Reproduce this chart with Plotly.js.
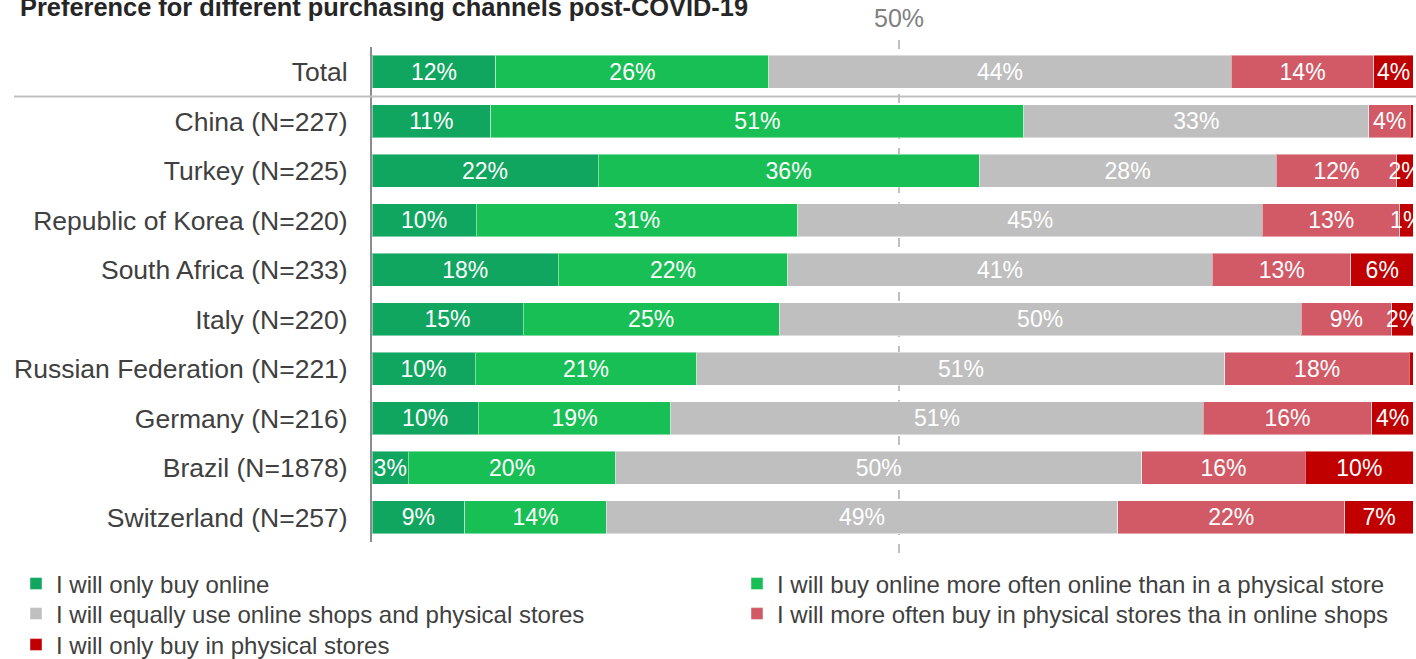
<!DOCTYPE html>
<html>
<head>
<meta charset="utf-8">
<script src="https://cdn.plot.ly/plotly-3.0.1.min.js"></script>
<style>
  html, body { margin: 0; padding: 0; background: #fff; }
  #plot { width: 1416px; height: 659px; }
</style>
</head>
<body>
<div id="plot"></div>
<script>
// Preference for purchasing channels post-COVID-19 — 100% stacked horizontal bars
const categories = ['Total', 'China (N=227)', 'Turkey (N=225)', 'Republic of Korea (N=220)',
  'South Africa (N=233)', 'Italy (N=220)', 'Russian Federation (N=221)', 'Germany (N=216)',
  'Brazil (N=1878)', 'Switzerland (N=257)'];

// shares in %
const onlyOnline   = [11.9, 11.4, 21.7, 10.0, 17.9, 14.5,  9.9, 10.2,  3.5,  8.9];
const moreOnline   = [26.2, 51.2, 36.6, 30.9, 22.0, 24.6, 21.3, 18.5, 19.9, 13.6];
const equally      = [44.4, 33.1, 28.5, 44.6, 40.8, 50.1, 50.7, 51.1, 50.5, 49.1];
const morePhysical = [13.7,  4.0, 11.6, 13.2, 13.3,  8.7, 17.7, 16.2, 15.7, 21.8];
const onlyPhysical = [ 3.8,  0.3,  1.6,  1.3,  6.0,  2.1,  0.4,  4.0, 10.4,  6.6];

// printed labels (the rounded figures shown on the chart)
const lblOnlyOnline   = ['12%', '11%', '22%', '10%', '18%', '15%', '10%', '10%', '3%', '9%'];
const lblMoreOnline   = ['26%', '51%', '36%', '31%', '22%', '25%', '21%', '19%', '20%', '14%'];
const lblEqually      = ['44%', '33%', '28%', '45%', '41%', '50%', '51%', '51%', '50%', '49%'];
const lblMorePhysical = ['14%', '4%', '12%', '13%', '13%', '9%', '18%', '16%', '16%', '22%'];
const lblOnlyPhysical = ['4%', '', '2%', '1%', '6%', '2%', '', '4%', '10%', '7%'];

const seriesNames = [
  'I will only buy online',
  'I will buy online more often online than in a physical store',
  'I will equally use online shops and physical stores',
  'I will more often buy in physical stores tha in online shops',
  'I will only buy in physical stores',
];

const MID = 50.6;   // dashed "50%" guide, as placed in the source

const FONT = 'Liberation Sans, Arial, sans-serif';
const COLORS = ['#11a65f', '#17bf55', '#bfbfbf', '#d15a66', '#c00000'];

// plot box in pixels (used only to turn pixel spots into paper fractions)
const W = 1416, H = 659, L = 372, R = 2, T = 47, B = 117;
const PW = W - L - R, PH = H - T - B;
const px = v => (v - L) / PW;
const py = v => (H - B - v) / PH;

function bar(x, text, i) {
  return {
    type: 'bar', orientation: 'h', y: categories, x, text, name: seriesNames[i],
    legend: i === 0 ? 'legend' : 'legend' + (i + 1),
    textposition: 'inside', insidetextanchor: 'middle', constraintext: 'none', textangle: 0,
    textfont: { family: FONT, size: 23, color: '#ffffff' },
    marker: { color: COLORS[i], line: { color: 'rgba(255,255,255,0.45)', width: 1 } },
    hoverinfo: 'skip', cliponaxis: false,
  };
}

const traces = [
  bar(onlyOnline, lblOnlyOnline, 0),
  bar(moreOnline, lblMoreOnline, 1),
  bar(equally, lblEqually, 2),
  bar(morePhysical, lblMorePhysical, 3),
  bar(onlyPhysical, lblOnlyPhysical, 4),
];

// one legend box per entry so the two-column grid sits where the source has it
const legendSpots = [[16, 584], [737, 584], [16, 614], [737, 614], [16, 645]];
function legendAt(k) {
  const [lx, ly] = legendSpots[k];
  return {
    x: px(lx), y: py(ly), xanchor: 'left', yanchor: 'middle', orientation: 'v',
    bgcolor: 'rgba(0,0,0,0)', borderwidth: 0, traceorder: 'normal',
    font: { family: FONT, size: 24, color: '#404040' },
    itemclick: false, itemdoubleclick: false,
  };
}

const layout = {
  width: W, height: H,
  margin: { l: L, r: R, t: T, b: B, autoexpand: false },
  paper_bgcolor: '#fff', plot_bgcolor: '#fff',
  font: { family: FONT, color: '#404040' },
  barmode: 'stack', bargap: 0.34,
  title: {
    text: '<b>Preference for different purchasing channels post-COVID-19</b>',
    font: { family: FONT, size: 25.4, color: '#262626' },
    x: 20 / W, xanchor: 'left', xref: 'container',
    y: 1 - 7 / H, yanchor: 'middle', yref: 'container',
  },
  xaxis: { range: [0, 100.05], showgrid: false, zeroline: false, showticklabels: false, fixedrange: true },
  yaxis: {
    autorange: 'reversed', showgrid: false, zeroline: false,
    showline: true, linecolor: '#8c8c8c', linewidth: 2,
    ticks: '', ticklabelstandoff: 17,
    tickfont: { family: FONT, size: 26.5, color: '#404040' }, fixedrange: true,
  },
  showlegend: true,
  legend: legendAt(0),
  legend2: legendAt(1),
  legend3: legendAt(2),
  legend4: legendAt(3),
  legend5: legendAt(4),
  shapes: [
    // dashed midpoint guide behind the bars
    { type: 'line', layer: 'below', xref: 'x', yref: 'paper', x0: MID, x1: MID, y0: py(553), y1: py(35),
      line: { color: '#bfbfbf', width: 2, dash: 'dash' } },
    // separator between Total and the countries
    { type: 'line', layer: 'above', xref: 'paper', yref: 'y', x0: px(14), x1: px(W), y0: 0.5, y1: 0.5,
      line: { color: '#bfbfbf', width: 2 } },
  ],
  annotations: [
    { text: '50%', xref: 'x', yref: 'paper', x: MID, y: py(18), showarrow: false,
      xanchor: 'center', yanchor: 'middle', font: { family: FONT, size: 25, color: '#808080' } },
  ],
};

Plotly.newPlot('plot', traces, layout, { displayModeBar: false, staticPlot: true });
</script>
</body>
</html>
